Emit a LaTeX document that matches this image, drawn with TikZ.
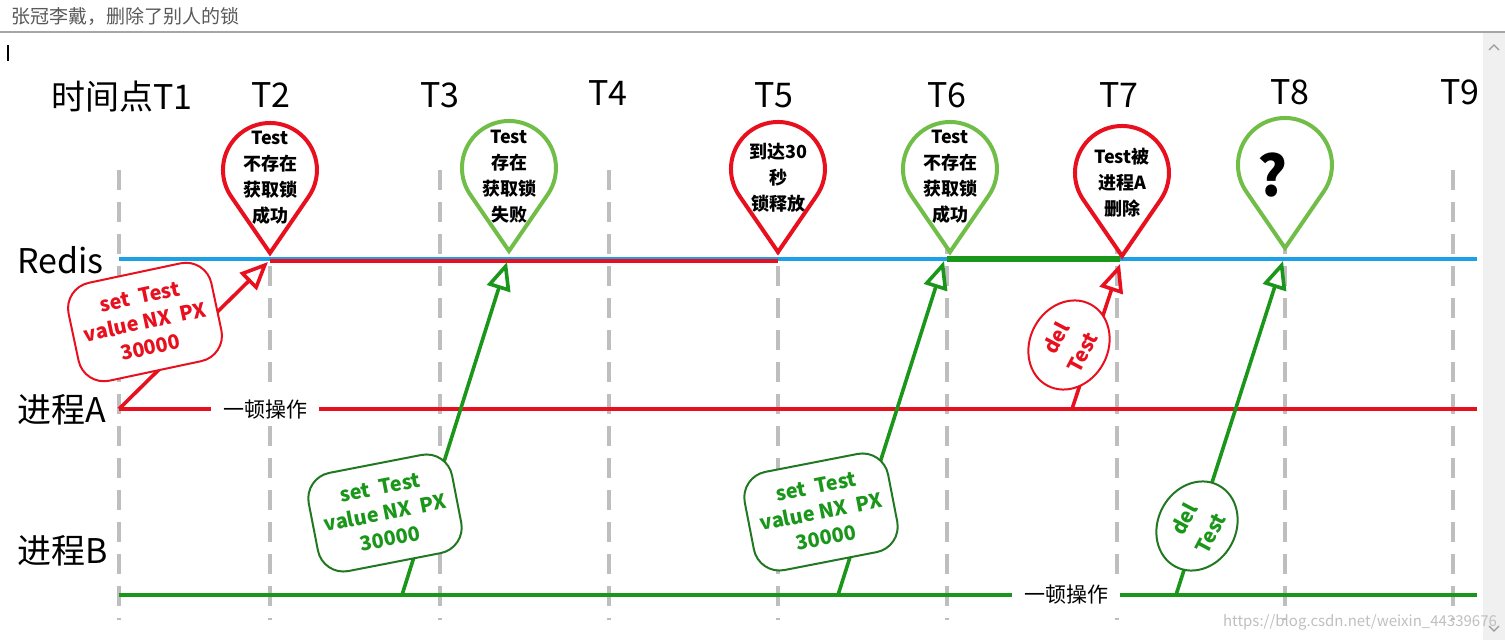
\documentclass[tikz,border=0pt]{standalone}
\usepackage{fontspec}
\setmainfont{Noto Sans CJK SC}
\usetikzlibrary{arrows.meta,shapes.geometric}
\definecolor{lockred}{RGB}{232,16,30}
\definecolor{redisblue}{RGB}{28,160,230}
\definecolor{pingreen}{RGB}{112,190,72}
\definecolor{msggreen}{RGB}{26,150,26}
\definecolor{boxgreen}{RGB}{34,120,34}
\definecolor{dashgray}{RGB}{190,190,190}

\begin{document}
\begin{tikzpicture}[x=0.5pt,y=0.5pt,>={Triangle[open,length=14pt,width=12pt]},
  grid/.style={dashgray,line width=2pt,dash pattern=on 10pt off 6pt},
  tlabel/.style={font=\fontsize{17}{17}\selectfont},
  pintext/.style={align=center,font=\bfseries\fontsize{9}{13}\selectfont},
  msg/.style={->,line width=1.8pt},
  cmdbox/.style={draw,fill=white,line width=1pt,rounded corners=13pt,align=center,minimum width=73pt,minimum height=50pt,inner sep=2pt,font=\bfseries\fontsize{10}{13}\selectfont},
  delbox/.style={ellipse,draw,fill=white,line width=1pt,align=center,minimum width=46pt,minimum height=39pt,inner sep=0pt,rotate=62,font=\bfseries\fontsize{10}{15}\selectfont},
  optext/.style={fill=white,inner xsep=6pt,font=\fontsize{10.5}{10.5}\selectfont},
  pics/droppin/.style={code={\draw[#1,line width=2pt,fill=white] (0,0) -- (38.7,56.4) arc[start angle=-34.5,end angle=214.5,radius=47] -- cycle;}}]
  \useasboundingbox (0,0) rectangle (1505,-640);
  % window
  \node[anchor=west,text=black!65,font=\fontsize{9.5}{9.5}\selectfont] (title) at (4,-16) {张冠李戴，删除了别人的锁};
  \draw[black!35,line width=0.6pt] (0,-32) -- (1505,-32);
  \draw[line width=0.6pt] (8,-45) -- (8,-61);
  \fill[black!6] (1483,-33) rectangle (1505,-640);
  \draw[black!40,line width=0.6pt] (1489,-50) -- (1494,-45) -- (1499,-50);
  \draw[black!40,line width=0.6pt] (1489,-626) -- (1494,-631) -- (1499,-626);
  % time grid
  \draw[grid] (119,-170) -- (119,-620); \draw[grid] (270,-170) -- (270,-620); \draw[grid] (440,-170) -- (440,-620);
  \draw[grid] (609,-170) -- (609,-620); \draw[grid] (778,-170) -- (778,-620); \draw[grid] (947,-170) -- (947,-620);
  \draw[grid] (1117,-170) -- (1117,-620); \draw[grid] (1285,-170) -- (1285,-620); \draw[grid] (1453,-170) -- (1453,-620);
  \node[tlabel] (t1) at (122,-97) {时间点T1}; \node[tlabel] (t2) at (271,-95) {T2}; \node[tlabel] (t3) at (440,-95) {T3};
  \node[tlabel] (t4) at (608,-93) {T4}; \node[tlabel] (t5) at (774,-95) {T5}; \node[tlabel] (t6) at (947,-95) {T6};
  \node[tlabel] (t7) at (1119,-95) {T7}; \node[tlabel] (t8) at (1290,-92) {T8}; \node[tlabel] (t9) at (1460,-92) {T9};
  \node[tlabel,anchor=west] (redis) at (10,-260) {Redis};
  \node[tlabel,anchor=west] (procA) at (10,-410) {进程A};
  \node[tlabel,anchor=west] (procB) at (10,-551) {进程B};
  % lifelines
  \draw[redisblue,line width=2pt] (119,-259) -- (1477,-259);
  \draw[lockred,line width=2pt] (270,-261) -- (778,-261);
  \draw[msggreen,line width=3pt] (947,-259) -- (1120,-259);
  \draw[lockred,line width=2.4pt] (119,-409) -- (1477,-409);
  \draw[msggreen,line width=2.4pt] (119,-595) -- (1477,-595);
  % requests
  \coordinate (a1) at (119,-409); \coordinate (a2) at (1072,-409);
  \coordinate (b1) at (402,-595); \coordinate (b2) at (838,-595); \coordinate (b3) at (1176,-595);
  \coordinate (r2) at (268,-262); \coordinate (r3) at (507,-262); \coordinate (r6) at (944,-261);
  \coordinate (r7) at (1120,-264); \coordinate (r8) at (1283,-261);
  \draw[msg,lockred] (a1) -- (r2);
  \draw[msg,msggreen] (b1) -- (r3);
  \draw[msg,msggreen] (b2) -- (r6);
  \draw[msg,lockred] (a2) -- (r7);
  \draw[msg,msggreen] (b3) -- (r8);
  \node[cmdbox,draw=lockred,text=lockred,rotate=12] (setA) at (145,-322) {set\ \ Test\\value NX\ \ PX\\30000};
  \node[cmdbox,draw=boxgreen,text=msggreen,rotate=11] (setB1) at (385,-513) {set\ \ Test\\value NX\ \ PX\\30000};
  \node[cmdbox,draw=boxgreen,text=msggreen,rotate=11] (setB2) at (821,-512) {set\ \ Test\\value NX\ \ PX\\30000};
  \node[delbox,draw=lockred,text=lockred] (delA) at (1069,-345) {del\\Test};
  \node[delbox,draw=boxgreen,text=msggreen] (delB) at (1197,-526) {del\\Test};
  \node[optext] (opA) at (265,-410) {一顿操作};
  \node[optext] (opB) at (1066,-595) {一顿操作};
  % lock states
  \pic at (270,-253) {droppin=lockred}; \node[pintext] (p2) at (270,-178) {Test\\不存在\\获取锁\\成功};
  \pic at (509,-251) {droppin=pingreen}; \node[pintext] (p3) at (509,-177) {Test\\存在\\获取锁\\失败};
  \pic at (778,-252) {droppin=lockred}; \node[pintext] (p5) at (778,-178) {到达30\\秒\\锁释放};
  \pic at (950,-252) {droppin=pingreen}; \node[pintext] (p6) at (950,-177) {Test\\不存在\\获取锁\\成功};
  \pic at (1122,-256) {droppin=lockred}; \node[pintext] (p7) at (1122,-183) {Test被\\进程A\\删除};
  \pic at (1285,-248) {droppin=pingreen}; \node[font=\bfseries\fontsize{28}{28}\selectfont] (p8) at (1272,-175) {?};
  \node[text=black!25,font=\fontsize{7.5}{7.5}\selectfont] (mark) at (1360,-622) {https://blog.csdn.net/weixin\_44339676};
\end{tikzpicture}
\end{document}
